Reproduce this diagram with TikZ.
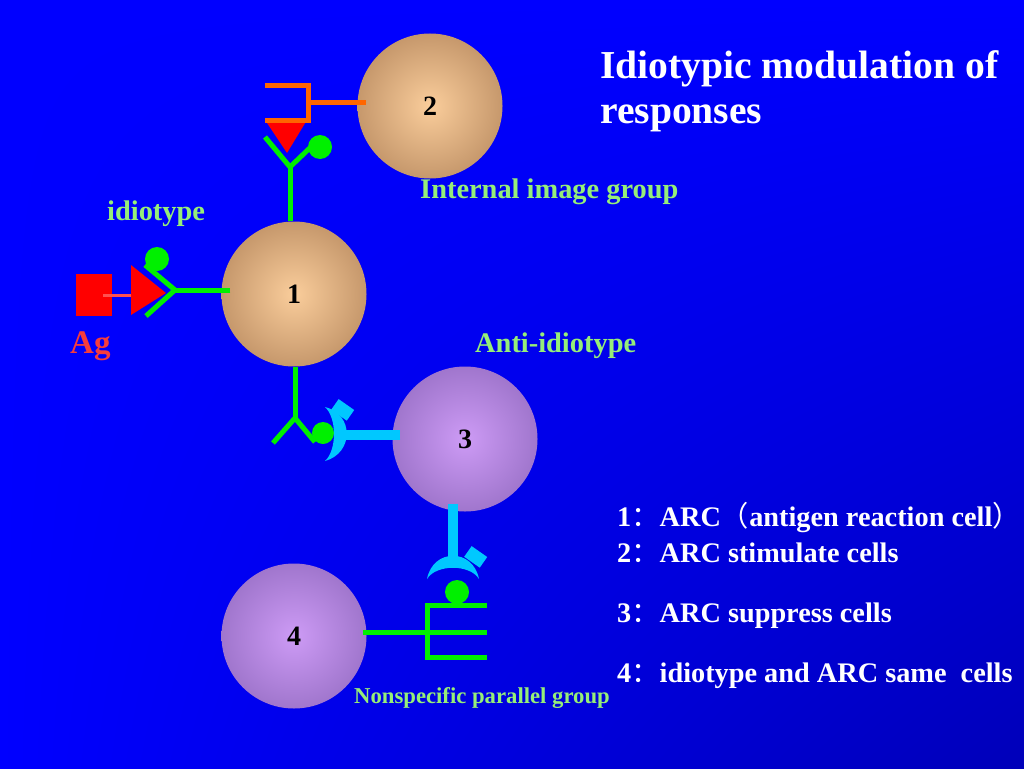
\documentclass[tikz,border=0pt]{standalone}
\usepackage{fontspec}
\setmainfont{Liberation Serif}
\newfontfamily\cjk{Noto Sans CJK SC}
\usepackage{tikz}
\usetikzlibrary{shadings}

\definecolor{bgblue}{RGB}{0,0,255}
\definecolor{bgdark}{RGB}{0,0,185}
\definecolor{abgreen}{RGB}{0,240,0}
\definecolor{lblgreen}{RGB}{150,238,120}
\definecolor{agred}{RGB}{255,0,0}
\definecolor{agtext}{RGB}{245,60,60}
\definecolor{aglight}{RGB}{255,80,80}
\definecolor{orng}{RGB}{255,102,0}
\definecolor{abcyan}{RGB}{0,200,255}

\begin{document}
\begin{tikzpicture}[x=1pt,y=-1pt,
    cell/.style={circle,minimum size=145pt,inner sep=0pt,font=\bfseries\fontsize{28}{28}\selectfont},
    tancell/.style={cell,inner color={rgb,255:red,250;green,205;blue,155},outer color={rgb,255:red,198;green,152;blue,108}},
    lilaccell/.style={cell,inner color={rgb,255:red,205;green,155;blue,245},outer color={rgb,255:red,160;green,118;blue,205}},
    grnline/.style={draw=abgreen,line width=5pt},
    orline/.style={draw=orng,line width=5pt},
    cyline/.style={draw=abcyan,line width=10pt},
    lbl/.style={text=lblgreen,font=\bfseries\fontsize{28.4}{28.4}\selectfont,inner sep=0pt,anchor=base west},
    keyline/.style={text=white,font=\bfseries\fontsize{28.3}{28.3}\selectfont,inner sep=0pt,anchor=base west}]

    \useasboundingbox (0,0) rectangle (1024,768);
    \shade[upper left=bgblue,upper right=bgblue,lower left=bgblue,lower right=bgdark] (0,0) rectangle (1024,768);

    % cells
    \node[tancell] (c1) at (294,294) {1};
    \node[tancell] (c2) at (430,106) {2};
    \node[lilaccell] (c3) at (465,439) {3};
    \node[lilaccell] (c4) at (294,636) {4};

    % antigen and idiotype on cell 1
    \fill[agred] (76,274) rectangle (112,316);
    \draw[draw=aglight,line width=3pt] (103,295) -- (131,295);
    \fill[agred] (131,265) -- (166,293) -- (131,315) -- cycle;
    \draw[grnline] ([xshift=9pt,yshift=4pt]c1.west) -- (175,290) coordinate (fork1);
    \draw[grnline] (145,265) -- (fork1) -- (146,316);
    \fill[abgreen] (157,259) circle (12);

    % internal image group
    \draw[grnline] ([xshift=-4pt]c1.north) -- (290,167) coordinate (fork2);
    \draw[grnline] (265,137) -- (fork2) -- (315,143);
    \fill[abgreen] (320,147) circle (12);
    \fill[agred] (265,120) -- (307,120) -- (287,153) -- cycle;
    \draw[orline] (265,85) -- (308,85) -- (308,120) -- (265,120);
    \draw[orline] (308,102) -- ([xshift=9pt,yshift=4pt]c2.west);

    % anti-idiotype
    \draw[grnline] ([xshift=1pt]c1.south) -- (295,418) coordinate (fork3);
    \draw[grnline] (273,443) -- (fork3) -- (315,442);
    \fill[abgreen] (323,433) circle (11);
    \draw[cyline] ([xshift=8pt,yshift=4pt]c3.west) -- (343,435);
    \fill[abcyan] (325,407) .. controls (354,414) and (354,453) .. (325,461)
        .. controls (337,450) and (337,418) .. cycle;
    \fill[abcyan,rotate around={-35:(342,410)}] (333,403) rectangle (352,416);

    % nonspecific parallel group
    \draw[cyline] ([xshift=-12pt,yshift=8pt]c3.south) -- (453,560);
    \fill[abcyan] (427,579) .. controls (433,548) and (473,548) .. (479,579)
        .. controls (470,564) and (436,564) .. cycle;
    \fill[abcyan,rotate around={-35:(475,557)}] (466,550) rectangle (485,563);
    \fill[abgreen] (457,592) circle (12);
    \draw[grnline] (487,605) -- (427,605) -- (427,657) -- (487,657);
    \draw[grnline] ([xshift=-4pt,yshift=4pt]c4.east) -- (487,632);

    % labels
    \node[lbl] (tInternal) at (420,198) {Internal image group};
    \node[lbl] (tIdio) at (107,220) {idiotype};
    \node[lbl,text=agtext,font=\bfseries\fontsize{33}{33}\selectfont] (tAg) at (70,353) {Ag};
    \node[lbl] (tAnti) at (475,352) {Anti-idiotype};
    \node[lbl,font=\bfseries\fontsize{22.7}{22.7}\selectfont] (tNonspec) at (354,703) {Nonspecific parallel group};

    % title
    \node[keyline,font=\bfseries\fontsize{39.6}{39.6}\selectfont] (title1) at (600,78) {Idiotypic modulation of};
    \node[keyline,font=\bfseries\fontsize{39.6}{39.6}\selectfont] (title2) at (600,123) {responses};

    % key
    \node[keyline] (k1) at (617,526) {1{\cjk\mdseries ：}ARC{\cjk\mdseries （}antigen reaction cell{\cjk\mdseries ）}};
    \node[keyline] (k2) at (617,562) {2{\cjk\mdseries ：}ARC stimulate cells};
    \node[keyline] (k3) at (617,622) {3{\cjk\mdseries ：}ARC suppress cells};
    \node[keyline] (k4) at (617,682) {4{\cjk\mdseries ：}idiotype and ARC same\ \ cells};
\end{tikzpicture}
\end{document}
